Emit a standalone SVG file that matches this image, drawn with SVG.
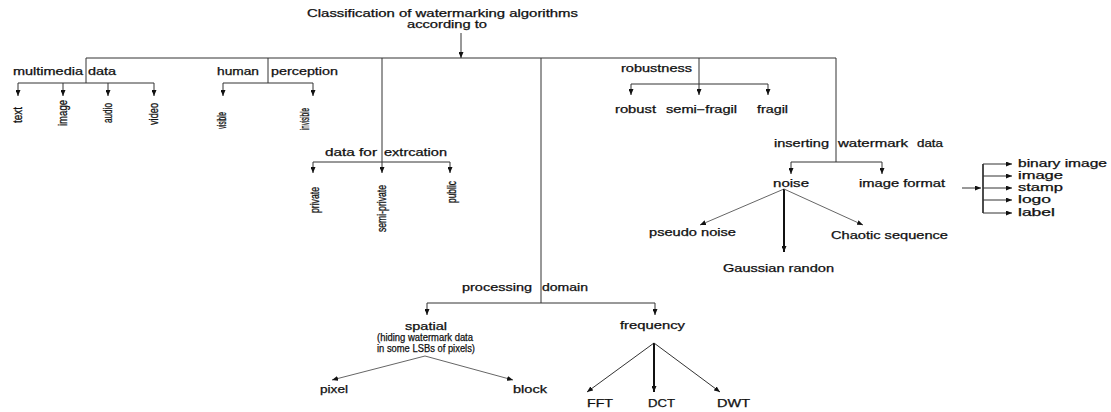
<svg xmlns="http://www.w3.org/2000/svg" width="1111" height="412" viewBox="0 0 1111 412">
<style>
.t{font-family:"Liberation Sans",Arial,Helvetica,sans-serif;font-size:10px;fill:#111;stroke:#111;stroke-width:0.25}
.s{font-family:"Liberation Sans",Arial,Helvetica,sans-serif;font-size:10px;fill:#111;stroke:#111;stroke-width:0.25}
.r{font-family:"Liberation Sans",Arial,Helvetica,sans-serif;font-size:12px;fill:#111;stroke:#111;stroke-width:0.3}
.ln{stroke:#333;stroke-width:1;fill:none}
.dg{stroke:#666;stroke-width:1;fill:none}
.tk{stroke:#111;stroke-width:2;fill:none}
</style>
<defs>
<marker id="ah" markerWidth="6" markerHeight="5" refX="6" refY="2.5" orient="auto" markerUnits="userSpaceOnUse"><path d="M0,0 L6,2.5 L0,5 z" fill="#111"/></marker>
</defs>
<rect width="1111" height="412" fill="#fff"/>

<g id="connectors">
  <line class="ln" x1="461" y1="33" x2="461" y2="58" marker-end="url(#ah)"/>
  <line class="ln" x1="86" y1="58" x2="836" y2="58"/>
  <line class="ln" x1="86" y1="58" x2="86" y2="83"/>
  <line class="ln" x1="268" y1="58" x2="268" y2="83"/>
  <line class="ln" x1="382" y1="58" x2="382" y2="173" marker-end="url(#ah)"/>
  <line class="ln" x1="541" y1="58" x2="541" y2="303"/>
  <line class="ln" x1="699" y1="58" x2="699" y2="95" marker-end="url(#ah)"/>
  <line class="ln" x1="836" y1="58" x2="836" y2="162"/>
  <!-- multimedia -->
  <line class="ln" x1="18" y1="83" x2="154" y2="83"/>
  <line class="ln" x1="18" y1="83" x2="18" y2="96" marker-end="url(#ah)"/>
  <line class="ln" x1="63" y1="83" x2="63" y2="96" marker-end="url(#ah)"/>
  <line class="ln" x1="108" y1="83" x2="108" y2="96" marker-end="url(#ah)"/>
  <line class="ln" x1="154" y1="83" x2="154" y2="96" marker-end="url(#ah)"/>
  <!-- human perception -->
  <line class="ln" x1="223" y1="83" x2="313" y2="83"/>
  <line class="ln" x1="223" y1="83" x2="223" y2="96" marker-end="url(#ah)"/>
  <line class="ln" x1="313" y1="83" x2="313" y2="96" marker-end="url(#ah)"/>
  <!-- data for extraction -->
  <line class="ln" x1="313" y1="162" x2="450" y2="162"/>
  <line class="ln" x1="313" y1="162" x2="313" y2="173" marker-end="url(#ah)"/>
  <line class="ln" x1="450" y1="162" x2="450" y2="173" marker-end="url(#ah)"/>
  <!-- robustness -->
  <line class="ln" x1="631" y1="84" x2="768" y2="84"/>
  <line class="ln" x1="631" y1="84" x2="631" y2="95" marker-end="url(#ah)"/>
  <line class="ln" x1="768" y1="84" x2="768" y2="95" marker-end="url(#ah)"/>
  <!-- inserting watermark data -->
  <line class="ln" x1="791" y1="162" x2="882" y2="162"/>
  <line class="ln" x1="791" y1="162" x2="791" y2="174" marker-end="url(#ah)"/>
  <line class="ln" x1="882" y1="162" x2="882" y2="174" marker-end="url(#ah)"/>
  <!-- noise -->
  <line class="dg" x1="784" y1="189" x2="700" y2="225" marker-end="url(#ah)"/>
  <line class="tk" x1="784" y1="189" x2="784" y2="252" marker-end="url(#ah)"/>
  <line class="dg" x1="784" y1="189" x2="863" y2="225" marker-end="url(#ah)"/>
  <!-- image format -->
  <line class="ln" x1="962" y1="188" x2="981" y2="188" marker-end="url(#ah)"/>
  <line class="tk" x1="983" y1="164" x2="983" y2="213" style="stroke-width:1.5"/>
  <line class="ln" x1="983" y1="164" x2="1012" y2="164" marker-end="url(#ah)"/>
  <line class="ln" x1="983" y1="176" x2="1012" y2="176" marker-end="url(#ah)"/>
  <line class="ln" x1="983" y1="188" x2="1012" y2="188" marker-end="url(#ah)"/>
  <line class="ln" x1="983" y1="200" x2="1012" y2="200" marker-end="url(#ah)"/>
  <line class="ln" x1="983" y1="213" x2="1012" y2="213" marker-end="url(#ah)"/>
  <!-- processing domain -->
  <line class="ln" x1="427" y1="303" x2="655" y2="303"/>
  <line class="ln" x1="427" y1="303" x2="427" y2="315" marker-end="url(#ah)"/>
  <line class="ln" x1="655" y1="303" x2="655" y2="315" marker-end="url(#ah)"/>
  <!-- spatial -->
  <line class="dg" x1="425" y1="356" x2="332" y2="380" marker-end="url(#ah)"/>
  <line class="dg" x1="425" y1="356" x2="513" y2="380" marker-end="url(#ah)"/>
  <!-- frequency -->
  <line class="ln" x1="654" y1="343" x2="587" y2="392" marker-end="url(#ah)"/>
  <line class="tk" x1="654" y1="343" x2="654" y2="392" marker-end="url(#ah)"/>
  <line class="ln" x1="654" y1="343" x2="720" y2="392" marker-end="url(#ah)"/>
</g>

<g id="root">
  <text class="t" x="307" y="17" textLength="271" lengthAdjust="spacingAndGlyphs">Classification of watermarking algorithms</text>
  <text class="t" x="407" y="28" textLength="80" lengthAdjust="spacingAndGlyphs">according to</text>
</g>

<g id="multimedia-data">
  <text class="t" x="13" y="75" textLength="70" lengthAdjust="spacingAndGlyphs">multimedia</text>
  <text class="t" x="88" y="75" textLength="28" lengthAdjust="spacingAndGlyphs">data</text>
</g>
<g id="text"><text class="r" transform="translate(22,123) rotate(-90)" textLength="16" lengthAdjust="spacingAndGlyphs">text</text></g>
<g id="image"><text class="r" transform="translate(67,126) rotate(-90)" textLength="26" lengthAdjust="spacingAndGlyphs">image</text></g>
<g id="audio"><text class="r" transform="translate(112,123) rotate(-90)" textLength="20" lengthAdjust="spacingAndGlyphs">audio</text></g>
<g id="video"><text class="r" transform="translate(158,125) rotate(-90)" textLength="22" lengthAdjust="spacingAndGlyphs">video</text></g>

<g id="human-perception">
  <text class="t" x="217" y="75" textLength="42" lengthAdjust="spacingAndGlyphs">human</text>
  <text class="t" x="271" y="75" textLength="67" lengthAdjust="spacingAndGlyphs">perception</text>
</g>
<g id="visible"><text class="r" transform="translate(226,129) rotate(-90)" textLength="17" lengthAdjust="spacingAndGlyphs">visible</text></g>
<g id="invisible"><text class="r" transform="translate(309,130) rotate(-90)" textLength="22" lengthAdjust="spacingAndGlyphs">invisible</text></g>

<g id="data-for-extraction">
  <text class="t" x="325" y="156" textLength="52" lengthAdjust="spacingAndGlyphs">data for</text>
  <text class="t" x="384" y="156" textLength="63" lengthAdjust="spacingAndGlyphs">extrcation</text>
</g>
<g id="private"><text class="r" transform="translate(319,213) rotate(-90)" textLength="26" lengthAdjust="spacingAndGlyphs">private</text></g>
<g id="semi-private"><text class="r" transform="translate(386,232) rotate(-90)" textLength="47" lengthAdjust="spacingAndGlyphs">semi-private</text></g>
<g id="public"><text class="r" transform="translate(456,203) rotate(-90)" textLength="22" lengthAdjust="spacingAndGlyphs">public</text></g>

<g id="robustness">
  <text class="t" x="621" y="72" textLength="71" lengthAdjust="spacingAndGlyphs">robustness</text>
</g>
<g id="robust"><text class="t" x="615" y="113" textLength="41" lengthAdjust="spacingAndGlyphs">robust</text></g>
<g id="semi-fragil"><text class="t" x="666" y="113" textLength="71" lengthAdjust="spacingAndGlyphs">semi−fragil</text></g>
<g id="fragil"><text class="t" x="757" y="113" textLength="31" lengthAdjust="spacingAndGlyphs">fragil</text></g>

<g id="inserting-watermark-data">
  <text class="t" x="774" y="147" textLength="55" lengthAdjust="spacingAndGlyphs">inserting</text>
  <text class="t" x="838" y="147" textLength="70" lengthAdjust="spacingAndGlyphs">watermark</text>
  <text class="t" x="917" y="147" textLength="26" lengthAdjust="spacingAndGlyphs">data</text>
</g>
<g id="noise"><text class="t" x="773" y="187" textLength="36" lengthAdjust="spacingAndGlyphs">noise</text></g>
<g id="image-format"><text class="t" x="859" y="187" textLength="86" lengthAdjust="spacingAndGlyphs">image format</text></g>
<g id="pseudo-noise"><text class="t" x="649" y="236" textLength="87" lengthAdjust="spacingAndGlyphs">pseudo noise</text></g>
<g id="gaussian-randon"><text class="t" x="723" y="272" textLength="111" lengthAdjust="spacingAndGlyphs">Gaussian randon</text></g>
<g id="chaotic-sequence"><text class="t" x="831" y="239" textLength="117" lengthAdjust="spacingAndGlyphs">Chaotic sequence</text></g>

<g id="binary-image"><text class="t" x="1018" y="167" textLength="89" lengthAdjust="spacingAndGlyphs">binary image</text></g>
<g id="image-2"><text class="t" x="1018" y="179" textLength="45" lengthAdjust="spacingAndGlyphs">image</text></g>
<g id="stamp"><text class="t" x="1018" y="191" textLength="45" lengthAdjust="spacingAndGlyphs">stamp</text></g>
<g id="logo"><text class="t" x="1018" y="203" textLength="33" lengthAdjust="spacingAndGlyphs">logo</text></g>
<g id="label"><text class="t" x="1018" y="216" textLength="37" lengthAdjust="spacingAndGlyphs">label</text></g>

<g id="processing-domain">
  <text class="t" x="462" y="291" textLength="70" lengthAdjust="spacingAndGlyphs">processing</text>
  <text class="t" x="542" y="291" textLength="46" lengthAdjust="spacingAndGlyphs">domain</text>
</g>
<g id="spatial">
  <text class="t" x="405" y="330" textLength="42" lengthAdjust="spacingAndGlyphs">spatial</text>
  <text class="s" x="377" y="341" textLength="96" lengthAdjust="spacingAndGlyphs">(hiding watermark data</text>
  <text class="s" x="377" y="352" textLength="98" lengthAdjust="spacingAndGlyphs">in some LSBs of pixels)</text>
</g>
<g id="frequency"><text class="t" x="620" y="329" textLength="65" lengthAdjust="spacingAndGlyphs">frequency</text></g>
<g id="pixel"><text class="t" x="320" y="393" textLength="28" lengthAdjust="spacingAndGlyphs">pixel</text></g>
<g id="block"><text class="t" x="513" y="393" textLength="34" lengthAdjust="spacingAndGlyphs">block</text></g>
<g id="fft"><text class="t" x="587" y="407" textLength="26" lengthAdjust="spacingAndGlyphs">FFT</text></g>
<g id="dct"><text class="t" x="648" y="407" textLength="27" lengthAdjust="spacingAndGlyphs">DCT</text></g>
<g id="dwt"><text class="t" x="717" y="407" textLength="33" lengthAdjust="spacingAndGlyphs">DWT</text></g>
</svg>
